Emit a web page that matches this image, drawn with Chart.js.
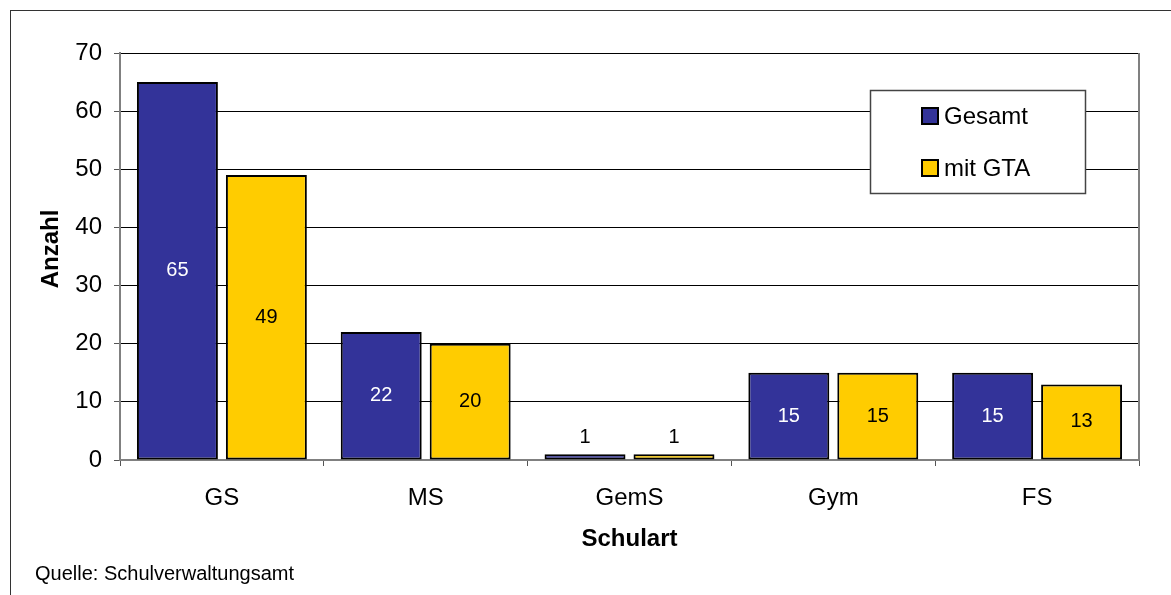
<!DOCTYPE html>
<html>
<head>
<meta charset="utf-8">
<script src="https://cdn.jsdelivr.net/npm/chart.js@4"></script>
<style>
html,body{margin:0;padding:0;background:#fff;}
#wrap{position:relative;width:1171px;height:595px;}
</style>
</head>
<body>
<div id="wrap"><canvas id="c" width="1171" height="595"></canvas></div>
<script>
const categories = ["GS", "MS", "GemS", "Gym", "FS"];
const gesamt = [65, 22, 1, 15, 15];
const mitGTA = [49, 20, 1, 15, 13];
const seriesNames = ["Gesamt", "mit GTA"];
const yTicks = [0, 10, 20, 30, 40, 50, 60, 70];
const sourceText = "Quelle: Schulverwaltungsamt";
const xTitle = "Schulart";
const yTitle = "Anzahl";

const BLUE = "#333399", YELLOW = "#FFCC00";
const FONT = "'Liberation Sans', Arial, sans-serif";

const framePlugin = {
  id: "frame",
  beforeDraw(chart) {
    const ctx = chart.ctx;
    ctx.save();
    ctx.fillStyle = "#fff";
    ctx.fillRect(0, 0, chart.width, chart.height);
    ctx.strokeStyle = "#333";
    ctx.lineWidth = 1;
    ctx.strokeRect(10.5, 10.5, 1300, 700);
    ctx.restore();
  },
  afterDatasetsDraw(chart) {
    const ctx = chart.ctx;
    const a = chart.chartArea;
    ctx.save();
    // right plot border
    ctx.strokeStyle = "#808080";
    ctx.lineWidth = 2;
    ctx.beginPath();
    ctx.moveTo(a.right, a.top);
    ctx.lineTo(a.right, a.bottom);
    ctx.stroke();
    // data labels
    ctx.font = "20px " + FONT;
    ctx.textAlign = "center";
    ctx.textBaseline = "middle";
    chart.data.datasets.forEach((ds, di) => {
      const meta = chart.getDatasetMeta(di);
      meta.data.forEach((bar, i) => {
        const h = bar.base - bar.y;
        let y, color;
        if (h < 24) {
          y = bar.y - 17;
          color = "#000";
        } else {
          y = (bar.y + bar.base) / 2;
          color = di === 0 ? "#fff" : "#000";
        }
        ctx.fillStyle = color;
        ctx.fillText(String(ds.data[i]), bar.x, y);
      });
    });
    // axis titles
    ctx.fillStyle = "#000";
    ctx.font = "bold 24px " + FONT;
    ctx.textAlign = "center";
    ctx.fillText(xTitle, (a.left + a.right) / 2, 539);
    ctx.save();
    ctx.translate(51, 249);
    ctx.rotate(-Math.PI / 2);
    ctx.fillText(yTitle, 0, 0);
    ctx.restore();
    // legend
    const lx = 870, ly = 90, lw = 215, lh = 103;
    ctx.fillStyle = "#fff";
    ctx.fillRect(lx, ly, lw, lh);
    ctx.strokeStyle = "#444";
    ctx.lineWidth = 1.5;
    ctx.strokeRect(lx + 0.5, ly + 0.5, lw, lh);
    const items = [{c: BLUE, y: 116}, {c: YELLOW, y: 168}];
    ctx.font = "24px " + FONT;
    ctx.textAlign = "left";
    items.forEach((it, k) => {
      ctx.fillStyle = it.c;
      ctx.fillRect(922, it.y - 8, 16, 16);
      ctx.strokeStyle = "#000";
      ctx.lineWidth = 2;
      ctx.strokeRect(922, it.y - 8, 16, 16);
      ctx.fillStyle = "#000";
      ctx.fillText(seriesNames[k], 944, it.y + 1);
    });
    // source
    ctx.font = "20px " + FONT;
    ctx.fillText(sourceText, 35, 574);
    ctx.restore();
  }
};

new Chart(document.getElementById("c"), {
  type: "bar",
  data: {
    labels: categories,
    datasets: [
      {label: seriesNames[0], data: gesamt, backgroundColor: BLUE, borderColor: "#000", borderWidth: 2, borderSkipped: false,
       categoryPercentage: 0.873, barPercentage: 0.91},
      {label: seriesNames[1], data: mitGTA, backgroundColor: YELLOW, borderColor: "#000", borderWidth: 2, borderSkipped: false,
       categoryPercentage: 0.873, barPercentage: 0.91}
    ]
  },
  options: {
    responsive: false,
    animation: false,
    devicePixelRatio: 1,
    layout: {padding: {left: 0, top: 53, right: 32, bottom: 0}},
    plugins: {legend: {display: false}, tooltip: {enabled: false}},
    scales: {
      x: {
        afterFit(s) { s.height = 135; },
        grid: {display: true, drawOnChartArea: false, drawTicks: true, tickLength: 6, offset: true, color: "#555", lineWidth: 1},
        border: {display: true, color: "#808080", width: 2},
        ticks: {color: "#000", font: {family: FONT, size: 24}, padding: 18}
      },
      y: {
        min: 0, max: 70,
        afterFit(s) { s.width = 120; },
        afterBuildTicks(s) { s.ticks = yTicks.map(v => ({value: v})); },
        grid: {color: "#000", lineWidth: 1, tickLength: 6, tickColor: "#555"},
        border: {display: true, color: "#808080", width: 2},
        ticks: {color: "#000", font: {family: FONT, size: 24}, padding: 12}
      }
    }
  },
  plugins: [framePlugin]
});
</script>
</body>
</html>
